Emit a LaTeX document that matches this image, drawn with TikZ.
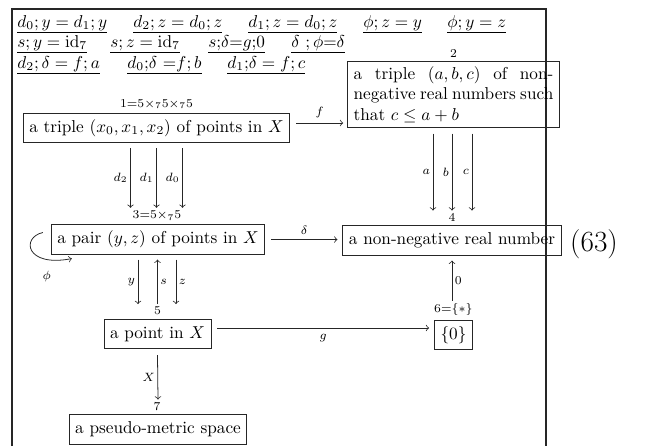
\documentclass[tikz,border=0pt]{standalone}
\usetikzlibrary{calc}
\begin{document}
\begin{tikzpicture}[x=0.581pt,y=-0.581pt,>=to]
\tikzset{
 box/.style={draw=black!85, line width=0.5pt, inner xsep=3.5pt, inner ysep=3.5pt},
 oneline/.style={text height=7.5pt, text depth=2.5pt},
 num/.style={font=\scriptsize, inner sep=1pt, anchor=south},
 arr/.style={->, draw=black!85, line width=0.45pt},
 lab/.style={font=\scriptsize, inner sep=1.5pt},
 eqn/.style={anchor=base west, inner sep=0pt},
 frame/.style={draw=black!85, line width=0.6pt},
}
\useasboundingbox (0,0) rectangle (658,446);
% frame
\coordinate (fbl) at (12,446);
\coordinate (ftl) at (12,9);
\coordinate (ftr) at (546,9);
\coordinate (fbr) at (546,446);
\draw[frame] (fbl) -- (ftl) -- (ftr) -- (fbr);
% equations
\node[eqn] (e1) at (17,27) {\underline{$d_0;y=d_1;y$}};
\node[eqn] (e2) at (133,27) {\underline{$d_2;z=d_0;z$}};
\node[eqn] (e3) at (248,27) {\underline{$d_1;z=d_0;z$}};
\node[eqn] (e4) at (363,27) {\underline{$\phi;z=y$}};
\node[eqn] (e5) at (447,27) {\underline{$\phi;y=z$}};
\node[eqn] (e6) at (17,47) {\underline{$s;y=\mathrm{id}_7$}};
\node[eqn] (e7) at (110,47) {\underline{$s;z=\mathrm{id}_7$}};
\node[eqn] (e8) at (208,47) {\underline{$s{;}\delta{=}g{;}0$}};
\node[eqn] (e9) at (291,47) {\underline{$\delta\ {;}\,\phi{=}\delta$}};
\node[eqn] (e10) at (17,68) {\underline{$d_2;\delta=f;a$}};
\node[eqn] (e11) at (127,68) {\underline{$d_0{;}\delta\ {=}f;b$}};
\node[eqn] (e12) at (227,68) {\underline{$d_1{;}\delta=f;c$}};
% boxes
\node[box,oneline] (n1) at (156.5,128) {a triple $(x_0,x_1,x_2)$ of points in $X$};
\node[box,inner ysep=2.5pt,text width=116pt,align=justify] (n2) at (453.5,94.5) {a triple $(a,b,c)$ of non-\linebreak negative real numbers such\linebreak that $c\le a+b$};
\node[box,oneline] (n3) at (158,239.5) {a pair $(y,z)$ of points in $X$};
\node[box,oneline] (n4) at (452,240.5) {a non-negative real number};
\node[box,oneline] (n5) at (157.5,334) {a point in $X$};
\node[box,oneline] (n6) at (453.5,335) {$\{0\}$};
\node[box,oneline] (n7) at (158,429.5) {a pseudo-metric space};
% object labels
\node[num] (l1) at ($(n1.north)+(0,-2)$) {$1{=}5{\times_7}5{\times_7}5$};
\node[num] (l2) at ($(n2.north)+(0,-2)$) {$2$};
\node[num] (l3) at ($(n3.north)+(-1,-2)$) {$3{=}5{\times_7}5$};
\node[num] (l4) at ($(n4.north)+(0,-2)$) {$4$};
\node[num] (l5) at ($(n5.north)+(0,-2)$) {$5$};
\node[num] (l6) at ($(n6.north)+(0,-2)$) {$6{=}\{*\}$};
\node[num] (l7) at ($(n7.north)+(-1,-2)$) {$7$};
% equation number
\node[font=\fontsize{17}{20}\selectfont, inner sep=0pt] (eqno) at (594,244) {(63)};
% arrows
\draw[arr] ($(n1.east)+(6,-5)$) -- ($(n2.west |- n1.east)+(-4,-5)$) node[lab,midway,above=1pt] {$f$};
\draw[arr] ($(n3.east)+(6,0)$) -- ($(n4.west |- n3.east)+(-5,0)$) node[lab,midway,above=1pt] {$\delta$};
\draw[arr] ($(n5.east)+(6,-6)$) -- ($(n6.west |- n5.east)+(-5,-6)$) node[lab,midway,below=2pt] {$g$};
\foreach \dx/\nm in {-26/d_2,0/d_1,26/d_0} {
  \draw[arr] ($(n1.south)+(\dx,5)$) -- ($(n1.south |- l3.north)+(\dx,-1)$) node[lab,midway,left] {$\nm$};
}
\foreach \dx/\nm in {-19/a,0/b,20/c} {
  \draw[arr] ($(n4.north |- n2.south)+(\dx,6)$) -- ($(l4.north)+(\dx,-1)$) node[lab,midway,left] {$\nm$};
}
\draw[arr] ($(n5.north |- n3.south)+(-19.5,5)$) -- ($(l5.north)+(-19.5,-1)$) node[lab,midway,left] {$y$};
\draw[arr] ($(l5.north)+(0,-1)$) -- ($(n5.north |- n3.south)+(0,5)$) node[lab,midway,right] {$s$};
\draw[arr] ($(n5.north |- n3.south)+(18.5,5)$) -- ($(l5.north)+(18.5,-1)$) node[lab,midway,right] {$z$};
\draw[arr] ($(n5.south)+(0,6)$) -- ($(l7.north)+(1,-1)$) node[lab,midway,left] {$X$};
\draw[arr] ($(l6.north)+(-1.5,-1)$) -- ($(n4.south)+(0,5)$) node[lab,midway,right] {$0$};
\draw[arr] ($(n3.west)+(-8,-7)$) .. controls ($(n3.west)+(-30,-2)$) and ($(n3.west)+(-25,28)$) .. ($(n3.south west)+(21,4)$);
\node[lab] (phi) at ($(n3.south west)+(-4,22)$) {$\phi$};
\end{tikzpicture}
\end{document}
